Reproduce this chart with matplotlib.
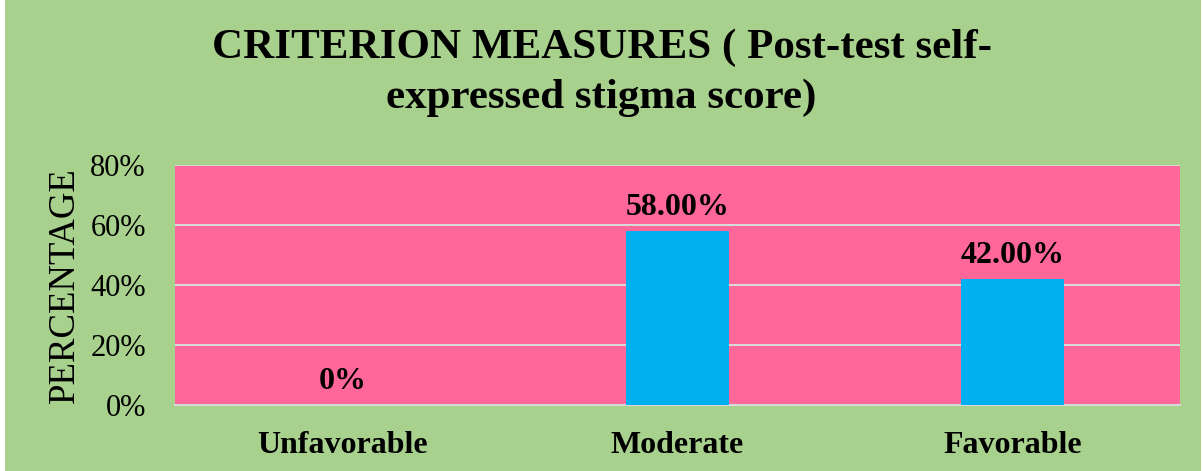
import matplotlib
matplotlib.use("Agg")
import matplotlib.pyplot as plt
from matplotlib.ticker import FuncFormatter
from matplotlib.patches import Rectangle

categories = ["Unfavorable", "Moderate", "Favorable"]
values = [0, 58, 42]
value_labels = ["0%", "58.00%", "42.00%"]
yticks = [0, 20, 40, 60, 80]

GREEN = "#A9D18E"
PINK = "#FF6699"
BLUE = "#00B0F0"

plt.rcParams["font.family"] = ["Liberation Serif", "DejaVu Serif"]

fig = plt.figure(figsize=(12.03, 4.71), dpi=100, facecolor="white")
fig.patches.append(Rectangle((5/1203, 0), 1 - 7/1203, 1, transform=fig.transFigure,
                             facecolor=GREEN, edgecolor="none", zorder=-10))
ax = fig.add_axes([175/1203, 1 - 405/471, (1180 - 175)/1203, (405 - 165)/471])
ax.set_facecolor(PINK)

x = range(len(categories))
ax.bar(x, values, width=0.31, color=BLUE, zorder=3)
ax.set_ylim(0, 80)
ax.set_xlim(-0.5, 2.5)
ax.set_yticks(yticks)
ax.yaxis.set_major_formatter(FuncFormatter(lambda v, p: f"{int(v)}%"))
ax.grid(axis="y", color="#D9D9D9", linewidth=1.5, zorder=1)
ax.set_axisbelow(True)
for s in ["top", "right", "left"]:
    ax.spines[s].set_visible(False)
ax.spines["bottom"].set_color("#D9D9D9")
ax.spines["bottom"].set_linewidth(1.5)
ax.tick_params(axis="both", length=0)
ax.tick_params(axis="y", pad=21, labelsize=22)
ax.set_xticks(list(x))
ax.set_xticklabels(categories, fontsize=23, fontweight="bold")
ax.tick_params(axis="x", pad=19)
ax.set_ylabel("PERCENTAGE", fontsize=26.5, labelpad=6)

for xi, v, lab in zip(x, values, value_labels):
    ax.annotate(lab, (xi, v), xytext=(0, 6.5), textcoords="offset points",
                ha="center", va="bottom", fontsize=23, fontweight="bold")

fig.text(0.5, 1 - 48/471, "CRITERION MEASURES ( Post-test self-", ha="center", va="center",
         fontsize=31, fontweight="bold")
fig.text(0.5, 1 - 98/471, "expressed stigma score)", ha="center", va="center",
         fontsize=31, fontweight="bold")

fig.savefig("out.png", dpi=100, facecolor=fig.get_facecolor())
